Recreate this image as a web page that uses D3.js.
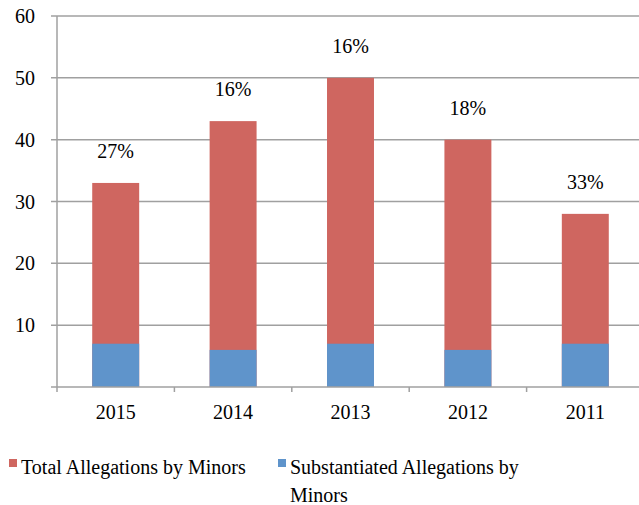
<!DOCTYPE html>
<html>
<head>
<meta charset="utf-8">
<script src="https://d3js.org/d3.v7.min.js"></script>
</head>
<body>
<script>
var years = ["2015", "2014", "2013", "2012", "2011"];
var totalAllegations = [33, 43, 50, 40, 28];
var substantiated = [7, 6, 7, 6, 7];
var pctLabels = ["27%", "16%", "16%", "18%", "33%"];
var yTicks = [10, 20, 30, 40, 50, 60];

var W = 639, H = 505;
var margin = {top: 16, left: 57, bottom: 118};
var plotRight = 644;

var x = d3.scaleBand()
    .domain(years)
    .range([margin.left, plotRight])
    .paddingInner(0.6)
    .paddingOuter(0.3);

var y = d3.scaleLinear()
    .domain([0, 60])
    .range([H - margin.bottom, margin.top]);

var svg = d3.select("body").append("svg")
    .attr("width", W)
    .attr("height", H)
    .style("position", "absolute")
    .style("left", "0px")
    .style("top", "0px")
    .style("background", "#fff");

// serif text like the original
function label(sel) {
    return sel.attr("font-family", "'Liberation Serif', monospace")
        .style("font-family", "'Liberation Serif', monospace", "important")
        .attr("font-size", 20)
        .attr("fill", "#000");
}

// gridlines
svg.append("g").selectAll("line")
    .data(yTicks)
    .enter().append("line")
    .attr("x1", margin.left - 6)
    .attr("x2", W)
    .attr("y1", d => y(d))
    .attr("y2", d => y(d))
    .attr("stroke", "#a0a0a0")
    .attr("stroke-width", 1.5);

// y axis labels
svg.selectAll(".ylab")
    .data(yTicks)
    .enter().append("text")
    .attr("class", "ylab")
    .call(label)
    .attr("x", 35)
    .attr("y", d => y(d) + 7)
    .attr("text-anchor", "end")
    .text(d => d);

// bars
svg.selectAll(".total")
    .data(years)
    .enter().append("rect")
    .attr("class", "total")
    .attr("x", d => x(d))
    .attr("width", x.bandwidth())
    .attr("y", (d, i) => y(totalAllegations[i]))
    .attr("height", (d, i) => y(0) - y(totalAllegations[i]))
    .attr("fill", "#cf6660");

svg.selectAll(".sub")
    .data(years)
    .enter().append("rect")
    .attr("class", "sub")
    .attr("x", d => x(d))
    .attr("width", x.bandwidth())
    .attr("y", (d, i) => y(substantiated[i]))
    .attr("height", (d, i) => y(0) - y(substantiated[i]))
    .attr("fill", "#5f94cb");

// percentage labels
svg.selectAll(".pct")
    .data(years)
    .enter().append("text")
    .attr("class", "pct")
    .call(label)
    .attr("x", d => x(d) + x.bandwidth() / 2)
    .attr("y", (d, i) => y(totalAllegations[i]) - 25)
    .attr("text-anchor", "middle")
    .text((d, i) => pctLabels[i]);

// axes lines
svg.append("line")
    .attr("x1", margin.left).attr("x2", margin.left)
    .attr("y1", y(60)).attr("y2", y(0) + 5)
    .attr("stroke", "#a0a0a0").attr("stroke-width", 1.5);

svg.append("line")
    .attr("x1", margin.left - 6).attr("x2", W)
    .attr("y1", y(0)).attr("y2", y(0))
    .attr("stroke", "#a0a0a0").attr("stroke-width", 1.5);

// category boundary ticks
var step = x.step();
svg.selectAll(".xtick")
    .data(years.slice(1))
    .enter().append("line")
    .attr("class", "xtick")
    .attr("x1", d => x(d) - step * 0.3)
    .attr("x2", d => x(d) - step * 0.3)
    .attr("y1", y(0))
    .attr("y2", y(0) + 5)
    .attr("stroke", "#a0a0a0").attr("stroke-width", 1.5);

// x labels
svg.selectAll(".xlab")
    .data(years)
    .enter().append("text")
    .attr("class", "xlab")
    .call(label)
    .attr("x", d => x(d) + x.bandwidth() / 2)
    .attr("y", 419)
    .attr("text-anchor", "middle")
    .text(d => d);

// legend
svg.append("rect").attr("x", 9).attr("y", 459).attr("width", 8).attr("height", 8).attr("fill", "#cf6660");
svg.append("text").call(label).attr("x", 21).attr("y", 474).text("Total Allegations by Minors");
svg.append("rect").attr("x", 278).attr("y", 459).attr("width", 8).attr("height", 8).attr("fill", "#5f94cb");
svg.append("text").call(label).attr("x", 290).attr("y", 474).text("Substantiated Allegations by");
svg.append("text").call(label).attr("x", 290).attr("y", 502).text("Minors");
</script>
</body>
</html>
